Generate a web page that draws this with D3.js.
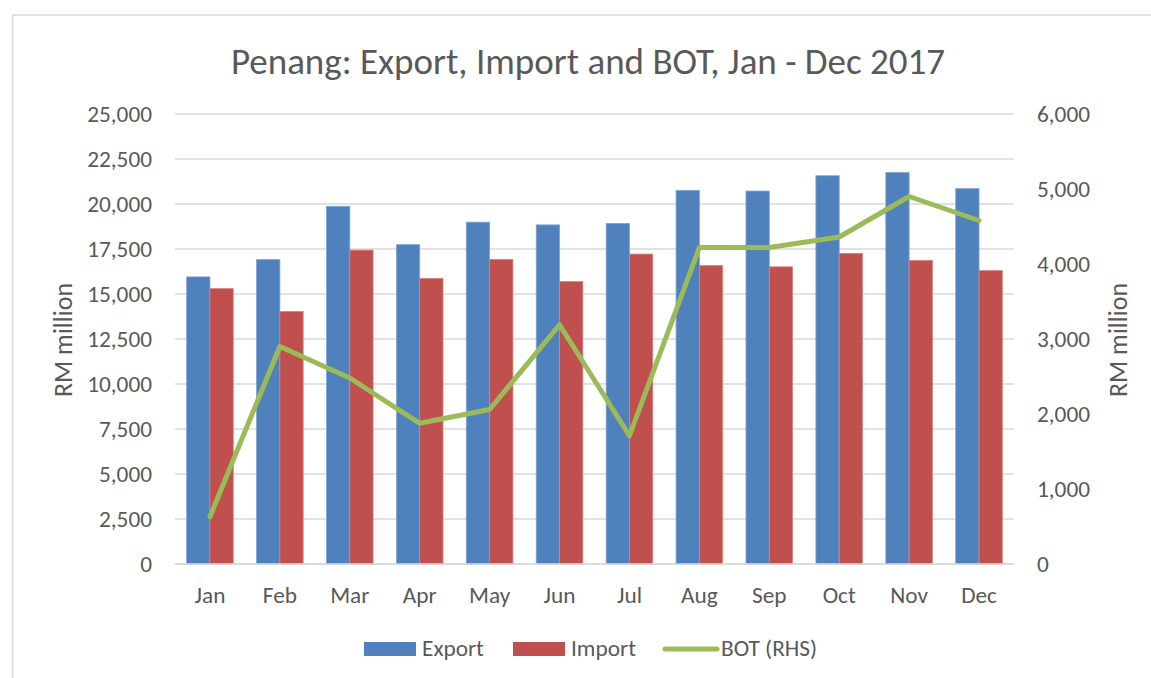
<!DOCTYPE html>
<html lang="en">
<head>
<meta charset="UTF-8">
<script src="https://d3js.org/d3.v7.min.js"></script>
<title>Penang: Export, Import and BOT</title>
<style>
    body { margin: 0; background: white; }
    svg { display: block; font-family: Calibri, Carlito, Lato, sans-serif; }
    .axis text { fill: #595959; font-size: 23.3px; font-family: Calibri, Carlito, Lato, sans-serif; }
    .axis path, .axis line { display: none; }
    .grid line { stroke: #d9d9d9; stroke-width: 1.5; }
</style>
</head>
<body>
<svg></svg>
<script>
const months = ["Jan", "Feb", "Mar", "Apr", "May", "Jun", "Jul", "Aug", "Sep", "Oct", "Nov", "Dec"];
const exportValues = [15950, 16910, 19870, 17740, 18990, 18840, 18920, 20760, 20720, 21570, 21750, 20850];
const importValues = [15300, 14030, 17440, 15870, 16920, 15690, 17220, 16580, 16510, 17260, 16870, 16300];
const botValues = [630, 2900, 2480, 1876, 2060, 3190, 1710, 4220, 4220, 4360, 4900, 4580];
const leftTicks = [0, 2500, 5000, 7500, 10000, 12500, 15000, 17500, 20000, 22500, 25000];
const rightTicks = [0, 1000, 2000, 3000, 4000, 5000, 6000];

const w = 1151, h = 678;
const svg = d3.select("svg").attr("width", w).attr("height", h);

// chart frame
svg.append("rect")
   .attr("x", 12.5).attr("y", 15)
   .attr("width", 1200).attr("height", 700)
   .attr("fill", "white").attr("stroke", "#d9d9d9").attr("stroke-width", 1.5);

const plotLeft = 175, plotRight = 1014, plotTop = 114, plotBottom = 564;

const x = d3.scaleBand().domain(months).range([plotLeft, plotRight]).paddingInner(1/3).paddingOuter(1/6);
const xSub = d3.scaleBand().domain(["export", "import"]).range([0, x.bandwidth()]);
const yL = d3.scaleLinear().domain([0, 25000]).range([plotBottom, plotTop]);
const yR = d3.scaleLinear().domain([0, 6000]).range([plotBottom, plotTop]);

// gridlines
svg.append("g").attr("class", "grid")
   .selectAll("line").data(leftTicks).enter().append("line")
   .attr("x1", plotLeft).attr("x2", plotRight)
   .attr("y1", d => yL(d)).attr("y2", d => yL(d));

// bars
const series = [
    {key: "export", values: exportValues, color: "#4f81bd", stroke: "#7fa3d3"},
    {key: "import", values: importValues, color: "#c0504d", stroke: "#d88583"}
];
series.forEach(function(s){
    svg.append("g").selectAll("rect").data(s.values).enter().append("rect")
       .attr("x", (d, i) => x(months[i]) + xSub(s.key))
       .attr("y", d => yL(d))
       .attr("width", xSub.bandwidth())
       .attr("height", d => yL(0) - yL(d))
       .attr("fill", s.color)
       .attr("stroke", s.stroke).attr("stroke-width", 0.8);
});

// BOT line
const line = d3.line()
    .x((d, i) => x(months[i]) + x.bandwidth() / 2)
    .y(d => yR(d));
svg.append("path").datum(botValues)
   .attr("d", line)
   .attr("fill", "none")
   .attr("stroke", "#9bbb59")
   .attr("stroke-width", 5)
   .attr("stroke-linejoin", "round")
   .attr("stroke-linecap", "round");

// axes
svg.append("g").attr("class", "axis")
   .attr("transform", "translate(" + (plotLeft - 23) + ",0)")
   .call(d3.axisLeft(yL).tickValues(leftTicks).tickSize(0).tickPadding(0).tickFormat(d3.format(",")));
svg.append("g").attr("class", "axis")
   .attr("transform", "translate(" + (plotRight + 23) + ",0)")
   .call(d3.axisRight(yR).tickValues(rightTicks).tickSize(0).tickPadding(0).tickFormat(d3.format(",")));
svg.append("g").attr("class", "axis")
   .attr("transform", "translate(0," + (plotBottom + 22.5) + ")")
   .call(d3.axisBottom(x).tickSize(0).tickPadding(0));

// zero line
svg.append("line")
   .attr("x1", plotLeft).attr("x2", plotRight)
   .attr("y1", yL(0)).attr("y2", yL(0))
   .attr("stroke", "#d9d9d9").attr("stroke-width", 1.5);

// axis titles
svg.append("text")
   .attr("transform", "translate(72,340) rotate(-90)")
   .attr("text-anchor", "middle")
   .attr("fill", "#595959").style("font-size", "26px")
   .text("RM million");
svg.append("text")
   .attr("transform", "translate(1127,340) rotate(-90)")
   .attr("text-anchor", "middle")
   .attr("fill", "#595959").style("font-size", "26px")
   .text("RM million");

// title
svg.append("text")
   .attr("x", 588).attr("y", 74)
   .attr("text-anchor", "middle")
   .attr("fill", "#595959").style("font-size", "37px")
   .text("Penang: Export, Import and BOT, Jan - Dec 2017");

// legend
const legend = [
    {label: "Export", color: "#4f81bd", type: "rect", x: 364},
    {label: "Import", color: "#c0504d", type: "rect", x: 513},
    {label: "BOT (RHS)", color: "#9bbb59", type: "line", x: 663}
];
legend.forEach(function(l){
    if (l.type === "rect") {
        svg.append("rect").attr("x", l.x).attr("y", 642).attr("width", 52).attr("height", 14).attr("fill", l.color);
    } else {
        svg.append("line").attr("x1", l.x + 2).attr("x2", l.x + 54).attr("y1", 649).attr("y2", 649)
           .attr("stroke", l.color).attr("stroke-width", 5).attr("stroke-linecap", "round");
    }
    svg.append("text").attr("x", l.x + 58).attr("y", 656)
       .attr("fill", "#595959").style("font-size", "23.3px")
       .text(l.label);
});
</script>
</body>
</html>
